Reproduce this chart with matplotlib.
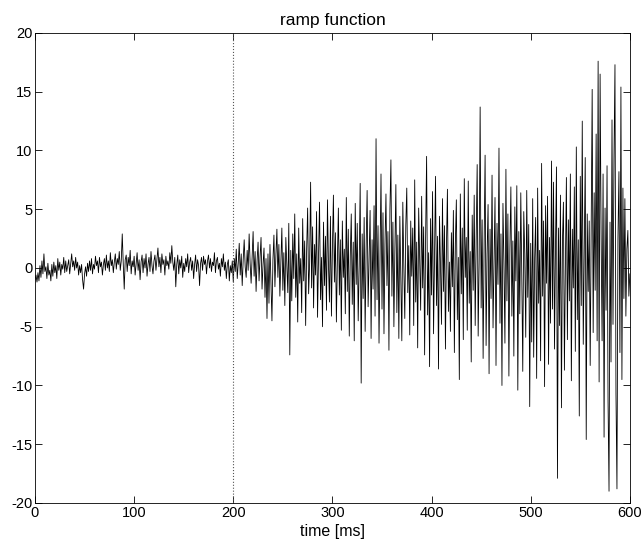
import matplotlib
matplotlib.use('Agg')
import matplotlib.pyplot as plt
import numpy as np

plt.rcParams['font.family'] = ['Liberation Sans', 'DejaVu Sans']
plt.rcParams['axes.unicode_minus'] = False

# values, one per ms (0..600)
seg_000 = [-1.0, -0.6, -1.2, -0.4, -1.1, 0.2, -0.8, 0.6, -0.5, 1.2, -0.3, 0.1, -0.9, 0.4, -0.6, -0.2, -1.1, 0.3, -0.7, 0.5,
           -0.4, 0.2, -0.9, 0.8, -0.2, 0.5, -0.6, 0.3, -0.1, 0.9, -0.4, 0.6, -0.3, 0.2, 0.7, -0.5, 0.4, 1.2, 0.1, 0.6,
           -0.2, 0.9, 0.0, 0.5, -0.6, 0.2, -0.4, 0.3, -1.0, -1.8, -0.5, 0.1, -0.7, 0.4, -0.3, 0.6, -0.2, 0.8, -0.5, 0.3,
           -0.1, 1.0, 0.2, 0.6, -0.4, 0.9, 0.1, 0.5, -0.6, 0.3, 0.8, -0.2, 1.1, 0.0, 0.6, -0.3, 1.3, 0.2, 0.7, -0.4,
           0.5, 1.2, -0.1, 0.8, 0.3, 1.4, -0.2, 0.6, 2.9, 0.4, -1.8, 0.7, 1.1, -0.3, 0.9, 0.2, 1.5, -0.5, 0.6, 0.1]
seg_100 = [1.0, -0.6, 0.4, 1.3, -0.2, 0.7, -1.0, 0.5, 1.1, -0.4, 0.8, 0.0, 1.2, -0.7, 0.3, 0.9, -0.3, 1.4, 0.2, -0.5,
           0.6, 1.1, -0.2, 0.8, 1.7, 0.1, 0.9, -0.4, 1.2, 0.3, 0.7, -0.6, 1.0, 0.2, 0.6, -0.1, 1.3, 0.4, 1.9, 0.5,
           -0.2, 0.9, -1.6, 0.3, 1.1, -0.5, 0.7, 0.0, 1.0, -0.8, 0.4, -0.3, 0.8, 0.1, 1.2, -0.4, 0.5, 0.9, -0.2, 0.6,
           -0.9, 0.3, 1.1, -0.3, 0.7, 0.2, -1.5, 0.4, 0.9, -0.2, 1.0, 0.3, 0.7, -0.5, 0.6, 1.1, 0.0, 0.8, -0.3, 0.5,
           0.2, 1.3, -0.4, 0.6, 0.9, -0.1, 0.4, -0.7, 0.8, 0.1, 1.2, -0.2, 0.5, -0.9, 0.3, 0.7, -1.1, 0.2, -0.4, 0.6]
seg_200 = [-1.2, 0.8, -0.3, 1.6, -0.9, 0.4, 2.1, -0.6, 1.2, -1.5, 0.7, 2.4, 0.1, -0.8, 1.5, -0.2, 2.9, 0.4, -1.3, 1.0,
           3.1, -0.7, 1.4, -2.0, 0.6, 2.2, -1.1, 0.9, 2.6, -1.8, 0.3, 1.7, -2.5, 0.8, -4.3, 1.2, -3.0, 2.0, -1.2, -4.5,
           0.7, 2.8, -1.6, 1.1, 3.3, -0.8, 2.0, -2.4, 0.5, 3.4, -1.9, 1.3, -3.2, 2.6, 0.2, -2.1, 3.8, -7.4, 1.5, -2.8,
           2.9, -0.9, 4.6, -2.5, 1.2, -4.6, 3.4, -1.3, 0.8, -3.8, 4.2, -1.1, 2.3, -4.9, 1.6, 5.1, -2.2, 0.4, 7.3, -1.7,
           3.5, -3.4, 2.0, -0.6, 4.8, -4.2, 1.1, 5.6, -2.7, 0.9, -5.0, 3.9, -1.5, 2.7, -3.6, 5.8, 0.3, -2.9, 4.4, -4.1]
seg_300 = [1.8, 6.2, -1.2, 3.0, -4.6, 0.6, 5.1, -2.3, 2.4, -5.3, 4.0, -0.8, 1.6, -3.9, 6.0, -2.0, 3.3, -5.8, 1.0, 4.6,
           -3.1, 2.2, -6.2, 5.5, -1.4, 3.8, -4.5, 0.2, 7.2, -9.8, 2.9, -2.6, 4.3, -5.4, 1.7, 6.6, -3.3, 0.8, 4.9, -6.0,
           2.4, -1.8, 5.3, -4.1, 11.0, -2.7, 3.6, -6.4, 1.2, 8.0, -3.5, 4.7, -5.6, 2.0, 6.3, -1.5, 3.1, -7.0, 5.0, 9.2,
           -2.4, 3.9, -5.0, 1.5, 7.1, -3.8, 2.8, -6.0, 4.4, -1.0, -6.2, 5.6, 0.3, -4.3, 3.6, 6.8, -2.1, 1.9, -5.7, 4.0,
           -0.7, 3.4, -4.9, 7.5, -2.9, 2.2, -6.8, 5.1, 0.8, -3.6, 6.1, -1.7, 3.5, -7.4, 2.6, 9.5, -4.0, 1.3, -8.4, 4.2]
seg_400 = [-2.3, 6.5, -5.6, 1.1, 7.8, -3.2, 2.7, -8.6, 4.4, 0.2, -4.8, 5.9, -2.0, 3.6, -6.9, 1.8, 6.7, -3.7, 0.5, -5.4,
           3.0, -1.6, 4.9, -7.2, 2.1, 5.8, -4.4, 0.9, -9.5, 6.3, -2.2, 3.4, -6.1, 7.6, -0.8, 2.6, -5.3, 7.4, -3.0, 1.4,
           -8.0, 4.5, -1.9, 6.2, -4.9, 2.5, 8.8, -5.8, 0.6, 13.7, -3.4, 4.1, -7.7, 2.0, 9.6, -6.6, 1.2, 5.4, -9.0, 3.3,
           -2.6, 7.9, -5.1, 0.7, 6.0, -8.3, 3.8, -1.4, 10.2, -4.7, 2.9, -10.0, 5.5, 0.4, -6.4, 8.4, -2.8, 4.6, -9.2, 1.6,
           6.9, -4.1, 2.3, -7.5, 5.2, -1.1, 7.0, -10.4, 3.1, -3.9, 6.4, -0.6, -8.8, 4.8, 1.2, -5.9, 6.6, -2.5, 3.7, -11.8]
seg_500 = [2.1, -6.3, 5.9, -7.6, 0.9, 4.3, -9.4, 6.8, -3.0, 1.5, -7.9, 8.9, -2.4, 4.0, -10.1, 5.3, -1.3, 6.1, -8.2, 2.6,
           -4.7, 9.1, -3.5, 7.3, -6.9, 1.8, 8.6, -17.9, 3.4, -4.9, 6.2, -11.9, 2.2, 5.6, -8.7, 0.3, 7.7, -6.1, 4.1, -2.8,
           8.0, -9.6, 3.3, -1.7, 6.9, -7.1, 10.3, -4.4, 2.4, -12.6, 7.8, -3.2, 12.5, -6.5, 1.1, 9.4, -14.6, 4.6, -2.0, 4.0,
           -8.3, 3.8, 15.2, -5.5, 6.4, -1.9, 11.4, -6.2, 17.6, -9.7, 16.5, 2.9, -6.2, 8.0, -14.4, 5.1, -3.6, 8.7, -11.3, -19.0,
           3.9, -8.0, 12.6, -4.8, 9.3, 17.3, -10.7, -18.8, 2.5, 8.2, -7.2, 15.4, -9.5, 6.8, -2.6, 5.9, -4.1, 1.6, 3.2, -2.4,
           -0.5]

signal = np.array(seg_000 + seg_100 + seg_200 + seg_300 + seg_400 + seg_500)
time_ms = np.arange(len(signal))

fig = plt.figure(figsize=(6.41, 5.43), dpi=100)
ax = fig.add_axes([0.0546, 0.0737, 0.928, 0.8656])

ax.plot(time_ms, signal, color='black', linewidth=0.6)
ax.axvline(200, color='#555555', linestyle=':', linewidth=0.8)

ax.set_xlim(0, 600)
ax.set_ylim(-20, 20)
ax.set_xticks(np.arange(0, 601, 100))
ax.set_yticks(np.arange(-20, 21, 5))
ax.tick_params(direction='in', top=True, right=True, length=5, width=0.6, labelsize=10.5, pad=2)
for s in ax.spines.values():
    s.set_linewidth(0.6)

ax.set_title('ramp function', fontsize=12.5, pad=6)
ax.set_xlabel('time [ms]', fontsize=11.5, labelpad=3)

fig.savefig('out.png', dpi=100)
